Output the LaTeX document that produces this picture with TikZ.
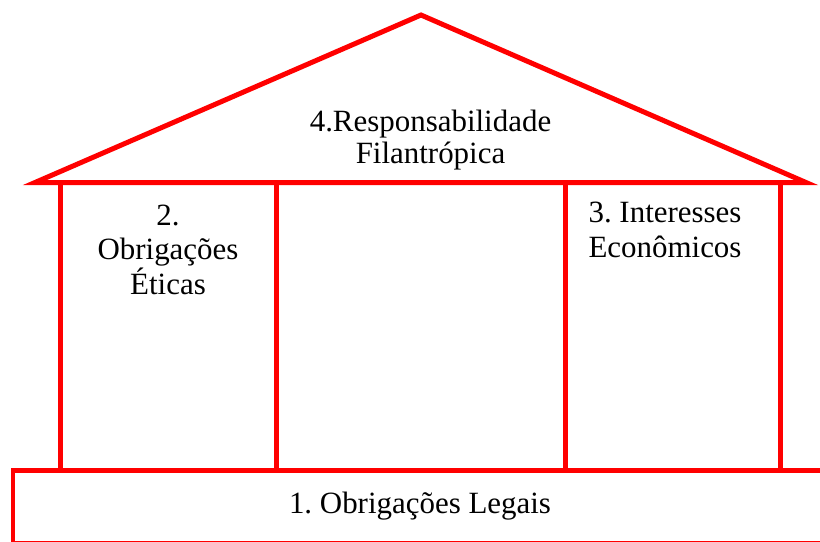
\documentclass[tikz,border=0pt]{standalone}
\usepackage{fontspec}
\setmainfont{Liberation Serif}
\frenchspacing
\usetikzlibrary{positioning}
\tikzset{
    wall/.style   = {draw=red, line width=3.55pt, line join=miter},
    label/.style  = {inner sep=0pt, anchor=base, align=center, font=\fontsize{22}{24.5}\selectfont},
    rooflabel/.style = {label, font=\fontsize{22}{22.4}\selectfont}
}

\begin{document}
\begin{tikzpicture}[x=0.025cm, y=-0.025cm]
	\useasboundingbox (0,0) rectangle (820,541);
	\clip (0,0) rectangle (820,541);
	\coordinate (roofL) at (35,182.5);
	\coordinate (apex)  at (421,15);
	\coordinate (roofR) at (806,182.5);

	\draw [wall] (roofL) -- (apex) -- (roofR) -- cycle;
	\draw [wall] (13,543) rectangle (835,470.5);
	\draw [wall] (60.5,182.5) -- (60.5,470.5);
	\draw [wall] (276.5,182.5) -- (276.5,470.5);
	\draw [wall] (565,182.5) -- (565,470.5);
	\draw [wall] (780.5,182.5) -- (780.5,470.5);

	% base anchor sits on the last line
	\node (filantropica) [rooflabel] at (430.5,163) {4.Responsabilidade\\Filantrópica};
	\node (eticas)   [label] at (168,294) {2.\\Obrigações\\Éticas};
	\node (economicos) [label] at (665,257) {3. Interesses\\Econômicos};
	\node (legais)   [label] at (420,513) {1. Obrigações Legais};
\end{tikzpicture}
\end{document}
